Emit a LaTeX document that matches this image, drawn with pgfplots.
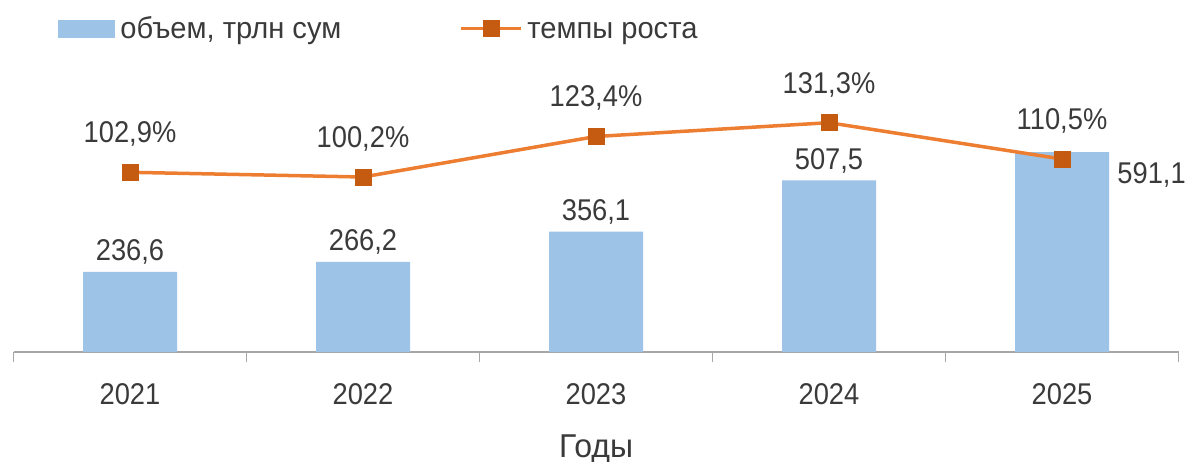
\documentclass[border=0pt]{standalone}
\usepackage{pgfplots}
\pgfplotsset{compat=1.18}
\usepackage{fontspec}
\setmainfont{Liberation Sans}[FakeStretch=0.91]
\newfontfamily\cyrfont{Liberation Sans}[FakeStretch=0.97]
\definecolor{barblue}{HTML}{9DC3E6}
\definecolor{lineorange}{HTML}{ED7D31}
\definecolor{markorange}{HTML}{C55A11}
\definecolor{txt}{HTML}{3A3A3A}
\definecolor{axgray}{HTML}{A6A6A6}
\begin{document}
\begin{tikzpicture}[font=\fontsize{15}{18}\selectfont, text=txt]
\useasboundingbox (-6.75pt,-54.5pt) rectangle (587.25pt,176pt);
\begin{axis}[
  at={(0,0)}, anchor=south west,
  scale only axis, width=582.5pt, height=146pt,
  xmin=-0.5, xmax=4.5, ymin=0, ymax=863.1,
  axis y line=none, axis x line*=bottom,
  axis line style={axgray, line width=0.75pt},
  xtick={0,1,2,3,4}, xticklabels={2021,2022,2023,2024,2025},
  major tick length=0pt,
  extra x ticks={-0.5,0.5,1.5,2.5,3.5,4.5},
  extra x tick labels={},
  extra x tick style={major tick length=5pt, tick align=outside, tick style={axgray, line width=0.75pt}},
  xticklabel style={anchor=base, yshift=-26.25pt, inner sep=0pt, text=txt, font=\fontsize{15}{18}\selectfont},
  xlabel={Годы},
  xlabel style={at={(axis description cs:0.5,0)}, anchor=base, yshift=-52.5pt, inner sep=0pt, text=txt, font=\cyrfont\fontsize{16.5}{19}\selectfont},
  clip=false,
  legend columns=2,
  legend style={draw=none, fill=none, at={(rel axis cs:0,1)}, anchor=west, xshift=22.25pt, yshift=15.5pt, inner sep=0pt,
    cells={anchor=base west},
    nodes={inner sep=0pt, text=txt, font=\cyrfont\fontsize{15}{18}\selectfont},
    /tikz/every even column/.append style={column sep=59pt}},
]
\addplot[ybar, bar width=47pt, bar shift=0pt, fill=barblue, draw=none,
  legend image code/.code={\fill[barblue] (0pt,0pt) rectangle (28.5pt,9pt); \path (31pt,0pt);}]
  coordinates {(0,236.6) (1,266.2) (2,356.1) (3,507.5) (4,591.1)};
\addlegendentry{объем, трлн сум}
\addlegendimage{legend image code/.code={\draw[lineorange, line width=1.75pt] (0pt,5pt) -- (30pt,5pt); \fill[markorange] (11pt,1pt) rectangle (19pt,9pt); \path (33pt,0pt);}}
\addlegendentry{темпы роста}
\addplot[draw=none, mark=none, forget plot, nodes near coords, point meta=explicit symbolic,
  every node near coord/.append style={anchor=base, yshift=5.5pt, inner sep=0pt, text=txt, font=\fontsize{15}{18}\selectfont}]
  coordinates {(0,236.6) [236,6] (1,266.2) [266,2] (2,356.1) [356,1] (3,507.5) [507,5]};
\addplot[draw=none, mark=none, forget plot, nodes near coords, point meta=explicit symbolic,
  every node near coord/.append style={anchor=base west, xshift=27.5pt, yshift=-15.75pt, inner sep=0pt, text=txt, font=\fontsize{15}{18}\selectfont}]
  coordinates {(4,591.1) [591,1]};
\end{axis}
\begin{axis}[
  at={(0,0)}, anchor=south west,
  scale only axis, width=582.5pt, height=146pt,
  xmin=-0.5, xmax=4.5, ymin=0, ymax=167.2,
  hide axis, clip=false,
]
\addplot[lineorange, line width=1.75pt, mark=square*, mark size=4pt,
  mark options={fill=markorange, draw=markorange, line width=0pt},
  nodes near coords, point meta=explicit symbolic,
  every node near coord/.append style={anchor=base, yshift=14.75pt, inner sep=0pt, text=txt, font=\fontsize{15}{18}\selectfont}]
  coordinates {(0,102.9) [102,9\%] (1,100.2) [100,2\%] (2,123.4) [123,4\%] (3,131.3) [131,3\%] (4,110.5) [110,5\%]};
\end{axis}
\end{tikzpicture}
\end{document}
